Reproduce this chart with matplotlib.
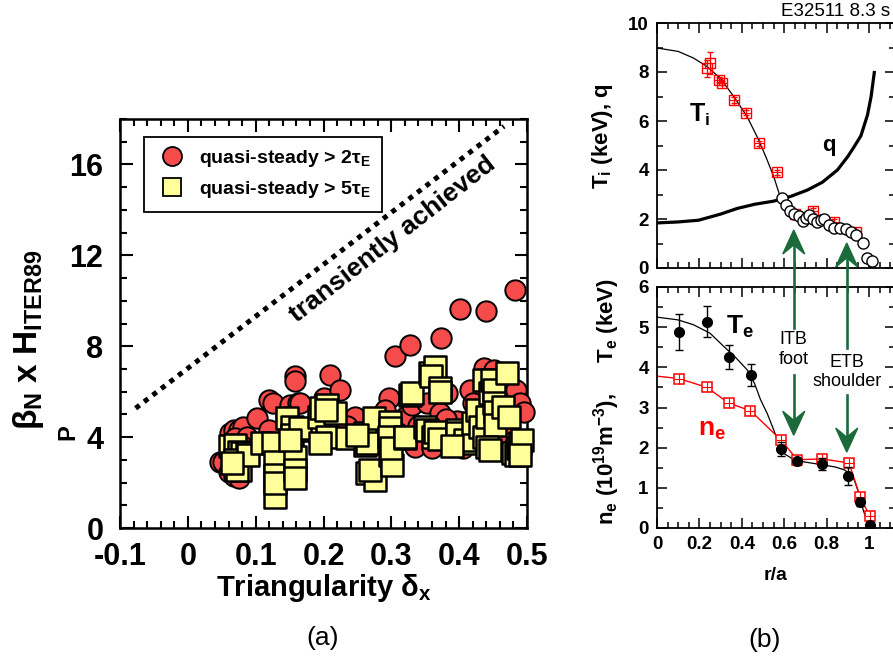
import matplotlib
matplotlib.use("Agg")
import matplotlib.pyplot as plt
from matplotlib.ticker import MultipleLocator
from matplotlib.lines import Line2D
from matplotlib.patches import Polygon
from matplotlib.transforms import IdentityTransform

plt.rcParams.update({
    'font.family': ['Liberation Sans', 'DejaVu Sans'],
    'font.weight': 'bold',
    'axes.labelweight': 'bold',
    'mathtext.fontset': 'custom',
    'mathtext.rm': 'Liberation Sans',
    'mathtext.it': 'Liberation Sans:italic',
    'mathtext.bf': 'Liberation Sans:bold',
    'mathtext.default': 'regular',
})

# ---- panel (a): beta_N x H vs triangularity ----
red_x = [0.047, 0.052, 0.060, 0.068, 0.075, 0.062, 0.068, 0.075, 0.082, 0.070, 0.087, 0.080,
         0.102, 0.119, 0.126, 0.120, 0.150, 0.158, 0.158, 0.162, 0.165, 0.145,
         0.210, 0.200, 0.225, 0.205, 0.247, 0.235, 0.190,
         0.306, 0.328, 0.373, 0.296, 0.291, 0.320, 0.330, 0.335, 0.310, 0.340,
         0.352, 0.372, 0.382, 0.385, 0.397, 0.360, 0.390, 0.380,
         0.401, 0.440, 0.483, 0.436, 0.451, 0.416, 0.420, 0.484, 0.489, 0.495,
         0.430, 0.410, 0.455, 0.470, 0.405, 0.425, 0.355]
red_y = [2.90, 2.92, 2.48, 2.30, 2.19, 4.17, 4.30, 4.32, 4.46, 3.95, 4.02, 3.60,
         4.83, 5.64, 5.49, 4.32, 5.42, 6.67, 6.45, 5.49, 5.52, 4.90,
         6.74, 5.71, 6.08, 5.30, 4.90, 4.50, 4.30,
         7.55, 8.06, 8.36, 5.71, 5.20, 4.90, 5.42, 3.58, 4.20, 4.50,
         5.49, 5.05, 5.93, 4.43, 4.70, 3.50, 3.90, 4.80,
         9.63, 9.57, 10.48, 7.03, 6.96, 6.08, 5.49, 6.08, 5.49, 5.12,
         4.60, 4.30, 4.00, 4.60, 3.50, 3.90, 4.20]

yel_x = [0.062, 0.070, 0.075, 0.080, 0.087, 0.070, 0.077, 0.072, 0.089, 0.065,
         0.109, 0.126, 0.129, 0.129, 0.129, 0.129,
         0.146, 0.153, 0.153, 0.158, 0.158, 0.158, 0.175, 0.165, 0.151,
         0.193, 0.197, 0.205, 0.217, 0.204, 0.205, 0.195, 0.235, 0.261, 0.261, 0.264, 0.274, 0.250,
         0.264, 0.276, 0.268,
         0.298, 0.298, 0.296, 0.298, 0.301, 0.300, 0.320, 0.320,
         0.328, 0.330, 0.357, 0.365, 0.358, 0.372, 0.372,
         0.350, 0.352, 0.362, 0.365, 0.370, 0.397, 0.397, 0.410, 0.409, 0.390,
         0.421, 0.426, 0.430, 0.436, 0.436, 0.441, 0.446, 0.448, 0.451, 0.451, 0.453, 0.453,
         0.441, 0.446, 0.465, 0.470, 0.473,
         0.480, 0.484, 0.487, 0.490, 0.492, 0.490]
yel_y = [3.60, 3.66, 3.36, 3.29, 3.29, 3.00, 2.56, 2.55, 3.21, 2.85,
         3.73, 3.73, 2.92, 2.34, 1.38, 2.00,
         4.83, 4.46, 4.10, 3.14, 2.56, 2.20, 4.32, 4.39, 3.87,
         4.90, 5.27, 5.42, 5.08, 5.20, 4.02, 3.73, 3.95, 4.17, 3.66, 3.73, 4.83, 4.10,
         2.41, 2.12, 2.55,
         4.68, 4.39, 4.00, 3.21, 2.77, 3.50, 3.95, 4.02,
         5.86, 5.93, 6.81, 7.10, 6.67, 6.16, 6.00,
         4.46, 4.32, 4.02, 4.24, 3.90, 4.31, 4.17, 3.73, 3.87, 3.60,
         4.61, 5.20, 4.46, 4.02, 6.52, 4.90, 5.93, 6.52, 6.08, 5.49, 5.12, 4.53,
         3.58, 3.43, 5.34, 6.81, 4.90,
         3.28, 3.22, 3.50, 3.73, 3.87, 3.20]

trans_x = [-0.077, 0.466]
trans_y = [5.27, 17.68]
delta_ticks = [-0.1, 0, 0.1, 0.2, 0.3, 0.4, 0.5]
beta_ticks = [0, 4, 8, 12, 16]

# ---- panel (b): profiles vs r/a ----
ti_fit_r = [0, 0.1, 0.172, 0.235, 0.298, 0.362, 0.425, 0.48, 0.52, 0.551, 0.575, 0.59]
ti_fit = [8.98, 8.84, 8.57, 8.23, 7.75, 7.0, 6.18, 5.22, 4.4, 3.72, 3.07, 2.84]
ti_r = [0.235, 0.251, 0.294, 0.305, 0.362, 0.42, 0.48, 0.564, 0.65, 0.736, 0.836, 0.94]
ti = [8.16, 8.38, 7.68, 7.55, 6.86, 6.34, 5.09, 3.9, 2.22, 2.33, 1.88, 1.47]
ti_err = [0.35, 0.45, 0.1, 0.1, 0.12, 0.1, 0.1, 0.1, 0.1, 0.1, 0.1, 0.1]
cx_r = [0.588, 0.607, 0.627, 0.646, 0.669, 0.688, 0.703, 0.717, 0.738, 0.757, 0.775,
        0.788, 0.812, 0.836, 0.864, 0.891, 0.915, 0.938, 0.97, 0.99, 1.013]
cx_ti = [2.84, 2.56, 2.33, 2.22, 2.11, 1.92, 2.05, 2.15, 2.02, 1.88, 1.95,
         1.98, 1.77, 1.64, 1.65, 1.61, 1.47, 1.34, 1.02, 0.42, 0.29]
q_r = [0, 0.1, 0.196, 0.3, 0.378, 0.46, 0.551, 0.63, 0.709, 0.78, 0.851, 0.9, 0.93,
       0.962, 0.993, 1.01, 1.025]
q = [1.84, 1.88, 1.95, 2.2, 2.43, 2.6, 2.73, 2.92, 3.18, 3.5, 4.0, 4.55, 4.95,
     5.4, 6.25, 7.0, 7.98]

te_fit_r = [0, 0.1, 0.172, 0.25, 0.315, 0.37, 0.425, 0.46, 0.488, 0.52, 0.55, 0.575,
            0.6, 0.646, 0.7, 0.772, 0.84, 0.883, 0.91, 0.93, 0.95, 0.97, 0.985, 1.0]
te_fit = [5.25, 5.18, 5.06, 4.85, 4.52, 4.25, 3.94, 3.6, 3.2, 2.85, 2.45, 2.1,
          1.85, 1.7, 1.64, 1.58, 1.52, 1.45, 1.35, 1.2, 0.9, 0.5, 0.25, 0.04]
te_r = [0.104, 0.236, 0.341, 0.444, 0.583, 0.662, 0.777, 0.903, 0.959, 1.005]
te = [4.89, 5.14, 4.25, 3.81, 1.96, 1.66, 1.6, 1.3, 0.64, 0.07]
te_err = [0.45, 0.38, 0.3, 0.27, 0.17, 0.08, 0.15, 0.22, 0.1, 0.03]
ne_r = [0.104, 0.236, 0.338, 0.441, 0.583, 0.662, 0.777, 0.906, 0.959, 1.005]
ne = [3.72, 3.5, 3.11, 2.92, 2.2, 1.7, 1.72, 1.62, 0.76, 0.29]
ne_line_r = [0] + ne_r
ne_line = [3.78] + ne

r_ticks = [0, 0.2, 0.4, 0.6, 0.8, 1.0]
r_labels = ['0', '0.2', '0.4', '0.6', '0.8', '1']

# arrows: r position, tip in top axes, line stop/resume + tip in bottom axes
arrow_r = [0.645, 0.895]
arrow_top_tip = [1.55, 1.02]
arrow_stop = [4.98, 4.48]
arrow_resume = [3.8, 3.31]
arrow_low_tip = [2.31, 1.89]
arrow_text = ["ITB\nfoot", "ETB\nshoulder"]
arrow_text_y = [4.45, 3.88]

W, H = 893, 669
fig = plt.figure(figsize=(W / 100, H / 100), dpi=100)


def box(l, t, r, b):
    return [l / W, 1 - b / H, (r - l) / W, (b - t) / H]


RED = '#f64b4b'
YEL = '#ffff99'
GREEN = '#1b6b3a'

# ---------------- panel (a) ----------------
ax = fig.add_axes(box(120, 119, 527, 528))
ax.scatter(red_x, red_y, s=215, c=RED, edgecolors='black', linewidths=1.4,
           clip_on=False, zorder=3)
ax.scatter(yel_x, yel_y, s=245, marker='s', c=YEL, edgecolors='black',
           linewidths=1.8, clip_on=False, zorder=4)
ax.plot(trans_x, trans_y, color='black', lw=3.6, ls=(0, (1, 1.15)),
        dash_capstyle='butt')
ax.text(0.302, 12.7, "transiently achieved", fontsize=19, rotation=38,
        rotation_mode='anchor', ha='center', va='center')

ax.set_xlim(-0.1, 0.5)
ax.set_ylim(0, 18)
ax.set_xticks(delta_ticks)
ax.set_xticklabels([f"{v:g}" for v in delta_ticks])
ax.set_yticks(beta_ticks)
ax.xaxis.set_minor_locator(MultipleLocator(0.02))
ax.yaxis.set_minor_locator(MultipleLocator(1))
ax.tick_params(which='both', direction='in', top=True, right=True, width=1.5,
               labelsize=22)
ax.tick_params(which='major', length=9)
ax.tick_params(which='minor', length=5)
ax.tick_params(axis='x', pad=10)
ax.tick_params(axis='y', pad=12)
for s in ax.spines.values():
    s.set_linewidth(1.8)

ax.set_xlabel(r"Triangularity $\mathrm{\delta}_x$", fontsize=21)
ax.xaxis.set_label_coords(0.5, -0.147)
ax.xaxis.label.set_va('center')
ax.set_ylabel(r"$\mathrm{\beta}_N$ x H$_{ITER89}$", fontsize=24)
ax.yaxis.set_label_coords(-0.226, 0.46)
ax.yaxis.label.set(va='center', rotation_mode='default')
fig.text(68 / W, 1 - 432 / H, "P", fontsize=17, rotation=90,
         ha='center', va='center')

handles = [Line2D([], [], ls='none', marker='o', ms=13.7, mfc=RED, mec='black', mew=1.3),
           Line2D([], [], ls='none', marker='s', ms=12.5, mfc=YEL, mec='black', mew=1.3)]
leg = ax.legend(handles, [r"quasi-steady > 2$\mathrm{\tau}_E$",
                          r"quasi-steady > 5$\mathrm{\tau}_E$"],
                loc='upper left', bbox_to_anchor=(0.06, 0.957), borderaxespad=0,
                fontsize=14, fancybox=False, edgecolor='black', framealpha=1,
                handletextpad=0.6, borderpad=0.6, labelspacing=0.5,
                handlelength=1.6)
leg.get_frame().set_linewidth(1.3)

fig.text(323 / W, 1 - 638 / H, "(a)", fontsize=19, fontweight='normal',
         ha='center', va='center')

# ---------------- panel (b) ----------------
x_right = (895 - 657) / 212
axT = fig.add_axes(box(657, 23, 895, 268))
axB = fig.add_axes(box(657, 287, 895, 528))

axT.plot(ti_fit_r, ti_fit, color='black', lw=0.9, zorder=2)
axT.plot(q_r, q, color='black', lw=2.3, zorder=2)
axT.errorbar(ti_r, ti, yerr=ti_err, fmt='s', ms=7, mfc='none', mec='red',
             mew=1.0, ecolor='red', elinewidth=0.9, capsize=2.5, zorder=3)
axT.plot(ti_r, ti, ls='none', marker='+', ms=7, color='red', mew=0.8, zorder=3)
axT.plot(cx_r, cx_ti, ls='none', marker='o', ms=8, mfc='white', mec='black',
         mew=1.0, zorder=4)
axT.text(0.2, 6.25, r"T$_i$", fontsize=18, ha='center', va='center')
axT.text(0.81, 5.0, "q", fontsize=16, ha='center', va='center')
axT.set_ylim(0, 10)
axT.set_yticks([0, 2, 4, 6, 8, 10])
axT.yaxis.set_minor_locator(MultipleLocator(1))
axT.set_ylabel(r"T$_i$ (keV), q", fontsize=16)
axT.yaxis.set_label_coords(-0.227, 0.54)
axT.yaxis.label.set(va='center', rotation_mode='default')

axB.plot(te_fit_r, te_fit, color='black', lw=0.9, zorder=2)
axB.plot(ne_line_r, ne_line, color='red', lw=1.0, zorder=2)
axB.errorbar(te_r, te, yerr=te_err, fmt='o', ms=7, color='black',
             elinewidth=1.0, capsize=3, zorder=4)
axB.plot(ne_r, ne, ls='none', marker='s', ms=7.5, mfc='white', mec='red',
         mew=1.1, zorder=3)
axB.plot(ne_r, ne, ls='none', marker='+', ms=7.5, color='red', mew=0.8, zorder=3)
axB.text(0.39, 5.0, r"T$_e$", fontsize=19, ha='center', va='center')
axB.text(0.26, 2.45, r"n$_e$", fontsize=19, color='red', ha='center', va='center')
axB.set_ylim(0, 6)
axB.set_yticks([0, 1, 2, 3, 4, 5, 6])
axB.yaxis.set_minor_locator(MultipleLocator(0.5))
axB.set_ylabel(r"n$_e$ (10$^{19}$m$^{-3}$),     T$_e$ (keV)", fontsize=16)
axB.yaxis.set_label_coords(-0.21, 0.523)
axB.yaxis.label.set(va='center', rotation_mode='default')
axB.set_xlabel("r/a", fontsize=14)
axB.xaxis.set_label_coords(0.5, (528 - 576) / 241)
axB.xaxis.label.set_va('center')

for a in (axT, axB):
    a.set_xlim(0, x_right)
    a.set_xticks(r_ticks)
    a.xaxis.set_minor_locator(MultipleLocator(0.05))
    a.tick_params(which='both', direction='in', top=True, right=True,
                  width=1.1, labelsize=13.5)
    a.tick_params(which='major', length=7)
    a.tick_params(which='minor', length=4)
    a.tick_params(axis='y', pad=6)
    for s in a.spines.values():
        s.set_linewidth(1.3)
axT.set_xticklabels([])
axB.set_xticklabels(r_labels)
axB.tick_params(axis='x', pad=6)

fig.text(781 / W, 1 - 12 / H, "E32511 8.3 s", fontsize=13.5, fontweight='normal',
         ha='left', va='center')
fig.text(765 / W, 1 - 640 / H, "(b)", fontsize=19, fontweight='normal',
         ha='center', va='center')


# green double arrows spanning both profile panels
def disp(a, x, y):
    return a.transData.transform((x, y))


def head(tip, up, length=24, half=11):
    tx, ty = tip
    sgn = -1 if up else 1
    verts = [(tx, ty), (tx - half, ty + sgn * length), (tx, ty + sgn * 0.62 * length),
             (tx + half, ty + sgn * length)]
    fig.add_artist(Polygon(verts, closed=True, color=GREEN,
                           transform=IdentityTransform(), zorder=10))


for i, r in enumerate(arrow_r):
    top = disp(axT, r, arrow_top_tip[i])
    stop = disp(axB, r, arrow_stop[i])
    resume = disp(axB, r, arrow_resume[i])
    low = disp(axB, r, arrow_low_tip[i])
    fig.add_artist(Line2D([top[0], stop[0]], [top[1] - 14, stop[1]], color=GREEN,
                          lw=1.9, transform=IdentityTransform(), zorder=9))
    fig.add_artist(Line2D([resume[0], low[0]], [resume[1], low[1] + 14], color=GREEN,
                          lw=1.9, transform=IdentityTransform(), zorder=9))
    head(top, True)
    head(low, False)
    axB.text(r, arrow_text_y[i], arrow_text[i], fontsize=13, fontweight='normal',
             ha='center', va='center', linespacing=1.2, zorder=11)

fig.savefig("out.png", dpi=100)
